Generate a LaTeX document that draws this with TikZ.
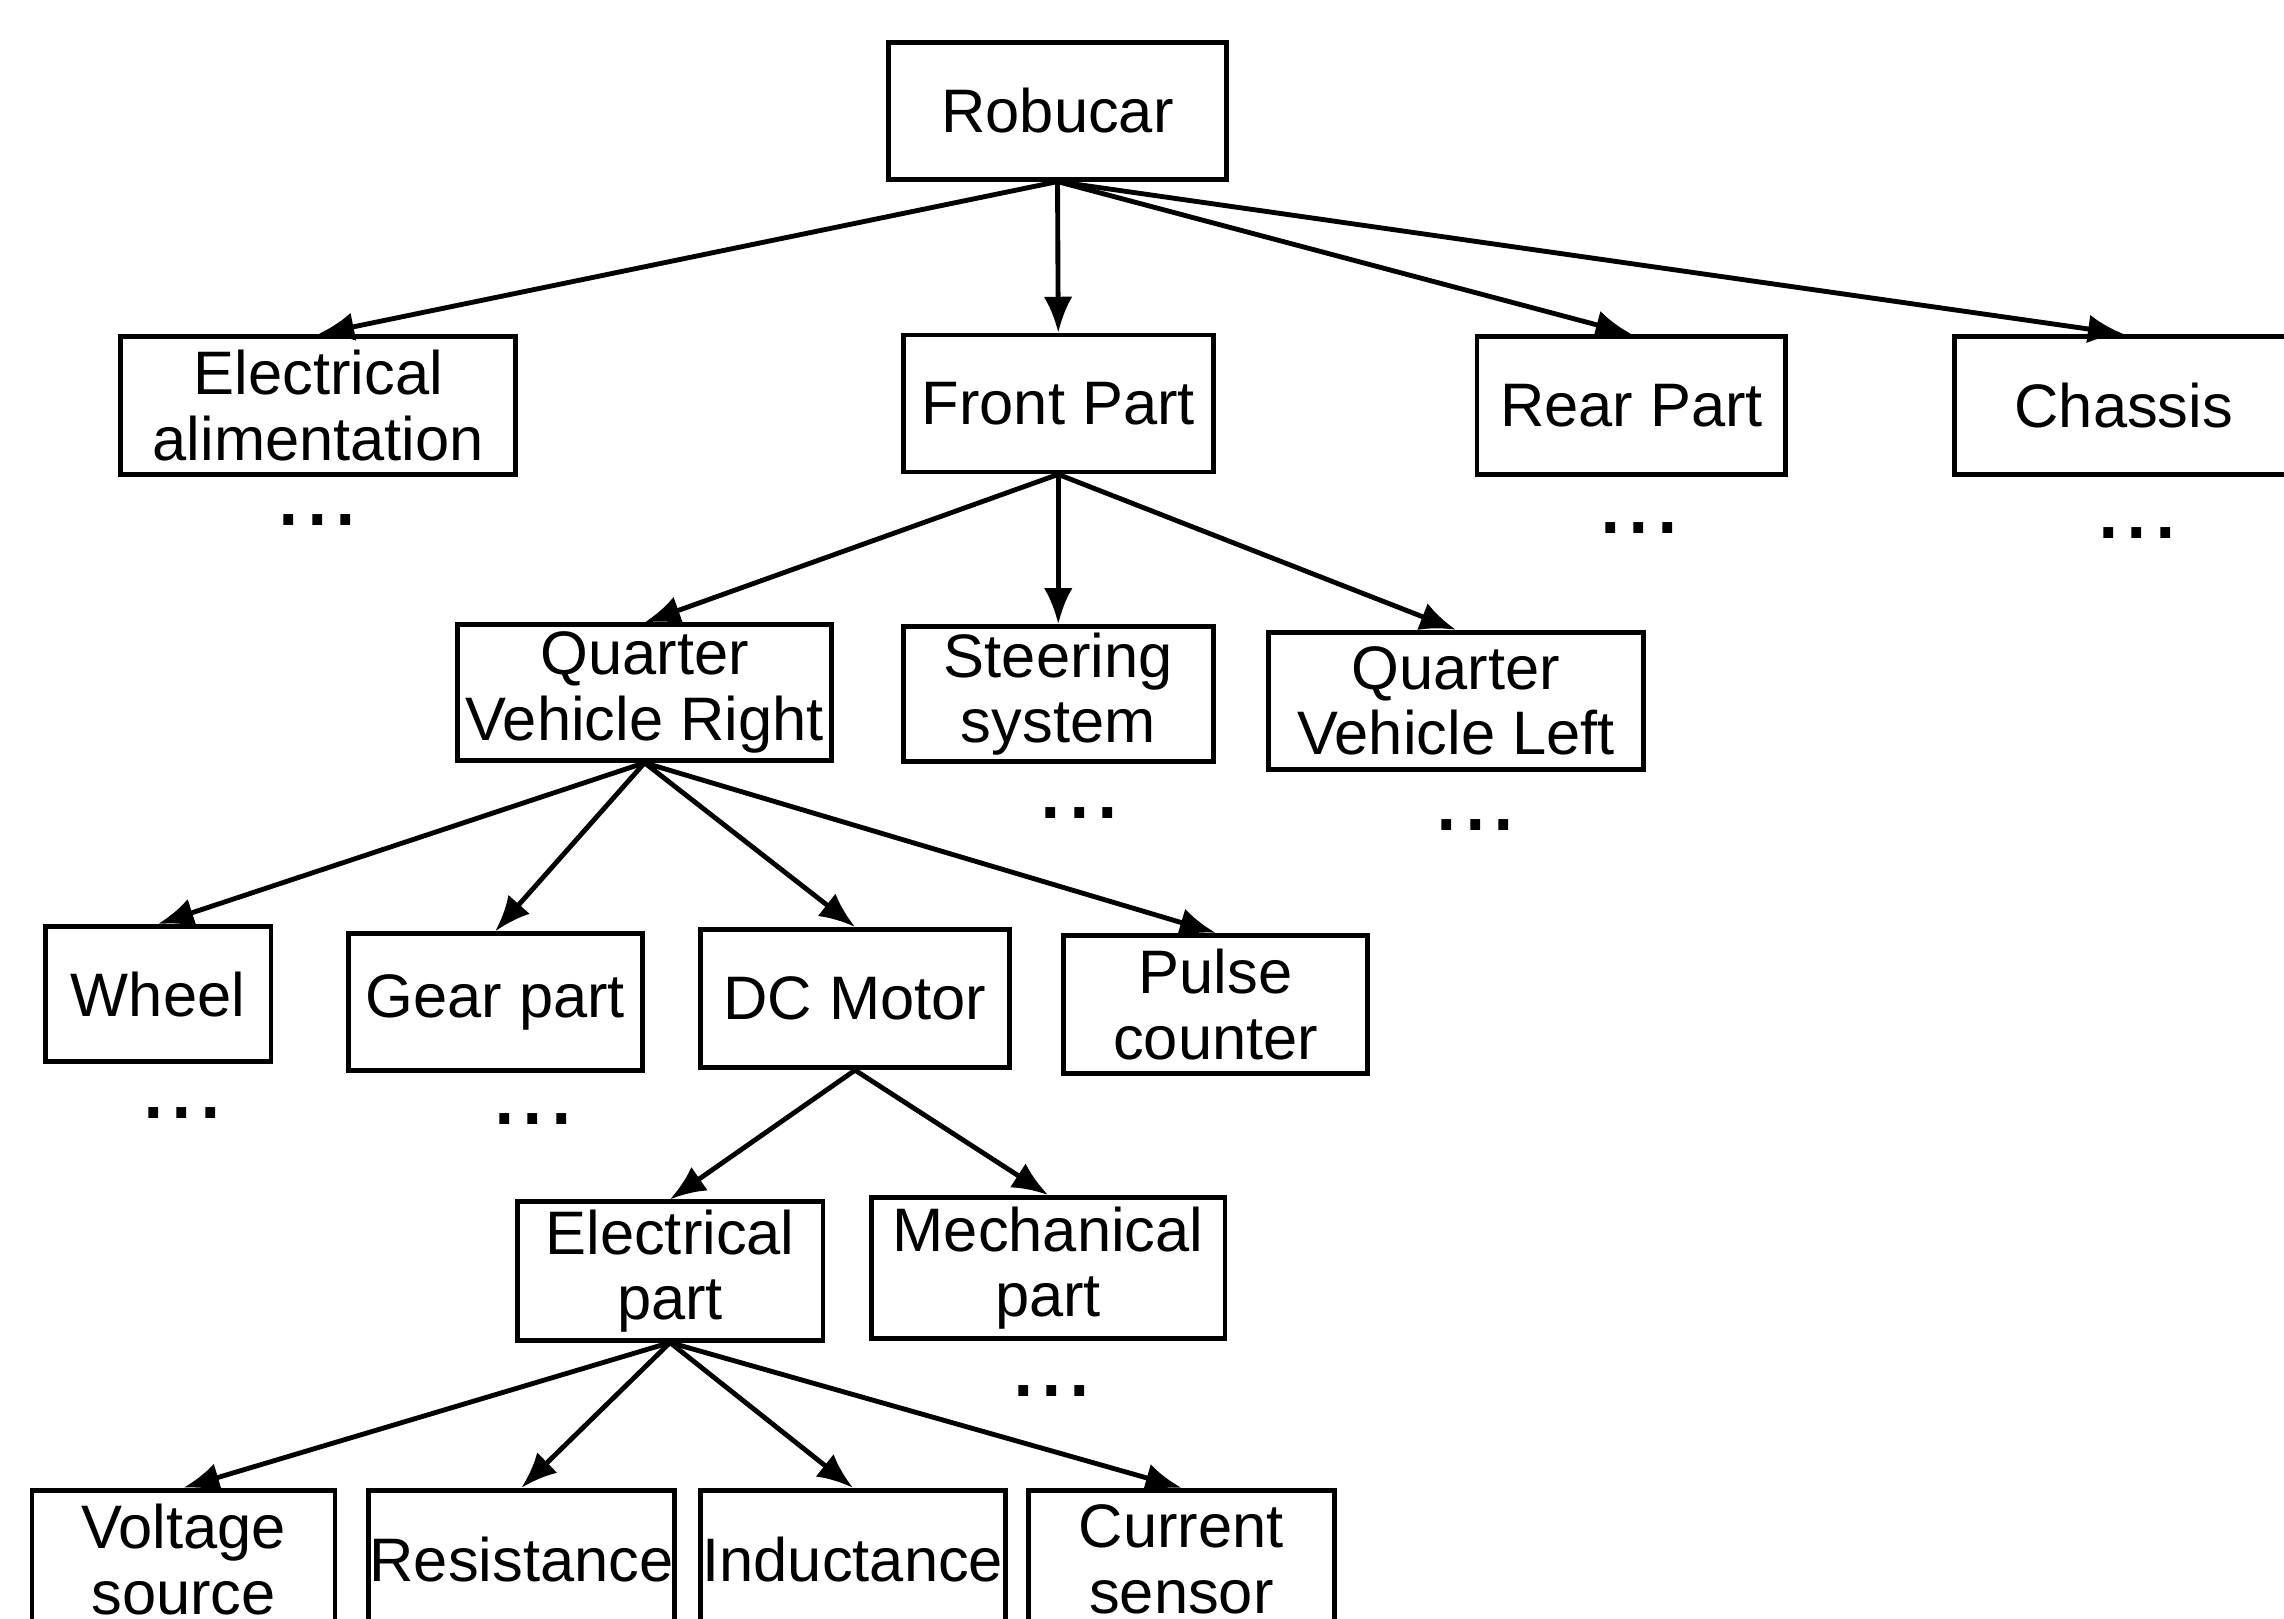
\documentclass[tikz,border=0pt]{standalone}
\usepackage{fontspec}
\setmainfont{Liberation Sans}
\usepackage{tikz}
\usetikzlibrary{arrows.meta}

\begin{document}
\begin{tikzpicture}[>={Latex[length=7pt,width=5.6pt]}, line width=0.95pt,
		blk/.style={draw, inner sep=0pt, align=center, font=\fontsize{12}{12.8}\selectfont},
		etc/.style={anchor=base, inner sep=0pt, font=\fontsize{20}{20}\selectfont}]
		\useasboundingbox (0,0) rectangle (15.68,-11.11);
		%\draw [help lines] (0,0) grid (15.68,-11.11);
		% Livello 0
		\node [blk, minimum width=2.32cm, minimum height=0.94cm] (robucar) at (7.26,-0.76) {Robucar};
		% Livello 1
		\node [blk, minimum width=2.71cm, minimum height=0.95cm] (elalim) at (2.185,-2.785) {Electrical\\alimentation};
		\node [blk, minimum width=2.13cm, minimum height=0.94cm] (front) at (7.265,-2.77) {Front Part};
		\node [blk, minimum width=2.12cm, minimum height=0.95cm] (rear) at (11.20,-2.785) {Rear Part};
		\node [blk, minimum width=2.32cm, minimum height=0.95cm] (chassis) at (14.58,-2.785) {Chassis};
		% Livello 2
		\node [blk, minimum width=2.57cm, minimum height=0.93cm] (qvright) at (4.425,-4.755) {Quarter\\Vehicle Right};
		\node [blk, minimum width=2.13cm, minimum height=0.93cm] (steering) at (7.265,-4.765) {Steering\\system};
		\node [blk, minimum width=2.57cm, minimum height=0.94cm] (qvleft) at (9.995,-4.81) {Quarter\\Vehicle Left};
		% Livello 3
		\node [blk, minimum width=1.55cm, minimum height=0.93cm] (wheel) at (1.085,-6.825) {Wheel};
		\node [blk, minimum width=2.02cm, minimum height=0.94cm] (gear) at (3.40,-6.88) {Gear part};
		\node [blk, minimum width=2.12cm, minimum height=0.95cm] (dcmotor) at (5.87,-6.855) {DC Motor};
		\node [blk, minimum width=2.09cm, minimum height=0.95cm] (pulse) at (8.345,-6.895) {Pulse\\counter};
		% Livello 4
		\node [blk, minimum width=2.10cm, minimum height=0.95cm] (elpart) at (4.60,-8.725) {Electrical\\part};
		\node [blk, minimum width=2.43cm, minimum height=0.97cm] (mechpart) at (7.195,-8.705) {Mechanical\\part};
		% Livello 5
		\node [blk, minimum width=2.08cm, minimum height=0.95cm] (voltage) at (1.26,-10.705) {Voltage\\source};
		\node [blk, minimum width=2.10cm, minimum height=0.95cm] (resist) at (3.58,-10.705) {Resistance};
		\node [blk, minimum width=2.09cm, minimum height=0.95cm] (induct) at (5.855,-10.705) {Inductance};
		\node [blk, minimum width=2.10cm, minimum height=0.95cm] (current) at (8.11,-10.705) {Current\\sensor};
		% Frecce
		\draw [->] (robucar.south) -- (elalim.north);
		\draw [->] (robucar.south) -- (front.north);
		\draw [->] (robucar.south) -- (rear.north);
		\draw [->] (robucar.south) -- (chassis.north);
		\draw [->] (front.south) -- (qvright.north);
		\draw [->] (front.south) -- (steering.north);
		\draw [->] (front.south) -- (qvleft.north);
		\draw [->] (qvright.south) -- (wheel.north);
		\draw [->] (qvright.south) -- (gear.north);
		\draw [->] (qvright.south) -- (dcmotor.north);
		\draw [->] (qvright.south) -- (pulse.north);
		\draw [->] (dcmotor.south) -- (elpart.north);
		\draw [->] (dcmotor.south) -- (mechpart.north);
		\draw [->] (elpart.south) -- (voltage.north);
		\draw [->] (elpart.south) -- (resist.north);
		\draw [->] (elpart.south) -- (induct.north);
		\draw [->] (elpart.south) -- (current.north);
		% Puntini
		\node [etc] (etcelalim) at (2.18,-3.61) {...};
		\node [etc] (etcrear) at (11.25,-3.66) {...};
		\node [etc] (etcchassis) at (14.67,-3.70) {...};
		\node [etc] (etcsteering) at (7.41,-5.62) {...};
		\node [etc] (etcqvleft) at (10.13,-5.70) {...};
		\node [etc] (etcwheel) at (1.25,-7.68) {...};
		\node [etc] (etcgear) at (3.66,-7.72) {...};
		\node [etc] (etcmech) at (7.22,-9.59) {...};
	\end{tikzpicture}
\end{document}
